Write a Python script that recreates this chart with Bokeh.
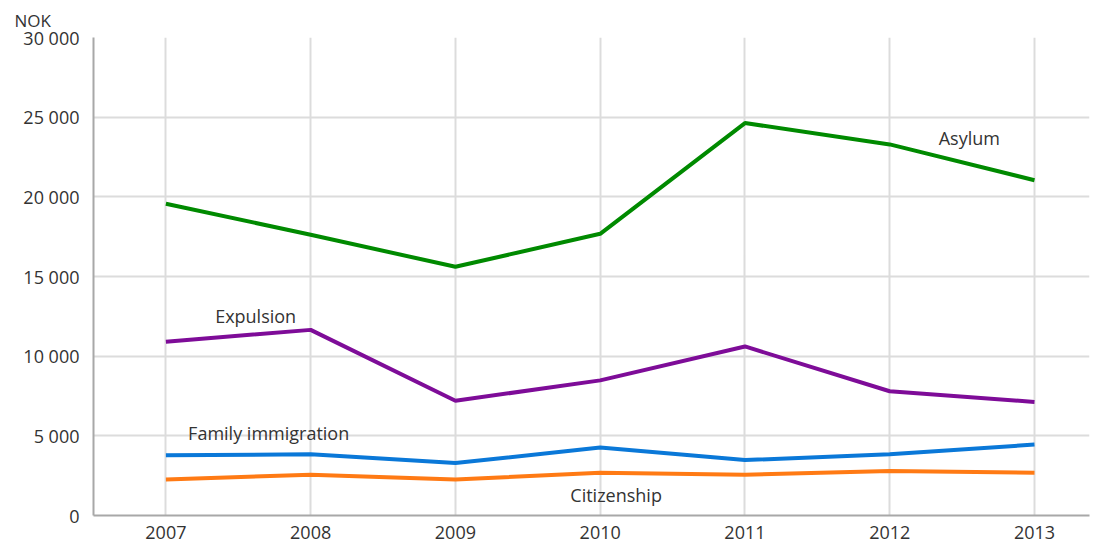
from bokeh.plotting import figure
from bokeh.models import Range1d, Label, FixedTicker
from bokeh.embed import file_html
from bokeh.resources import INLINE

years = [2007, 2008, 2009, 2010, 2011, 2012, 2013]
asylum = [19570, 17620, 15610, 17680, 24630, 23290, 21040]
expulsion = [10910, 11650, 7200, 8480, 10610, 7800, 7130]
family = [3780, 3840, 3290, 4270, 3480, 3840, 4450]
citizenship = [2260, 2560, 2260, 2680, 2560, 2800, 2680]
y_ticks = [0, 5000, 10000, 15000, 20000, 25000, 30000]

series = [
    ("Asylum", asylum, "#008a00", 2012.55, 23720),
    ("Expulsion", expulsion, "#7e0c98", 2007.62, 12500),
    ("Family immigration", family, "#0a78d8", 2007.71, 5180),
    ("Citizenship", citizenship, "#ff7a14", 2010.11, 1280),
]

FONT = "Open Sans"
TXT = "#333333"
FS = "18px"

p = figure(width=1094, height=546, output_backend="svg", toolbar_location=None,
           x_range=Range1d(2006.5, 2013.38), y_range=Range1d(0, 30000),
           min_border_left=93, min_border_right=5, min_border_bottom=31, min_border_top=35,
           title="NOK")
p.title.text_font = FONT
p.title.text_font_size = "17px"
p.title.text_font_style = "normal"
p.title.text_color = TXT
p.title.align = "left"
p.title.offset = -79
p.title.standoff = 12
p.outline_line_color = None
p.background_fill_color = "white"

p.xaxis.ticker = FixedTicker(ticks=years)
p.yaxis.ticker = FixedTicker(ticks=y_ticks)
p.yaxis.major_label_overrides = {t: f"{t:,}".replace(",", " ") for t in y_ticks}

for ax in (p.xaxis, p.yaxis):
    ax.major_tick_line_color = None
    ax.minor_tick_line_color = None
    ax.major_label_text_font = FONT
    ax.major_label_text_font_size = FS
    ax.major_label_text_color = TXT
    ax.axis_line_color = "#a8a8a8"
    ax.axis_line_width = 2
p.xaxis.major_label_standoff = 4
p.yaxis.major_label_standoff = 8

p.xgrid.grid_line_color = "#dcdcdc"
p.xgrid.grid_line_width = 2
p.ygrid.grid_line_color = "#dcdcdc"
p.ygrid.grid_line_width = 2

for name, vals, color, lx, ly in series:
    p.line(years, vals, line_color=color, line_width=4)
    p.add_layout(Label(x=lx, y=ly, text=name, text_font=FONT, text_font_size=FS,
                       text_color=TXT, text_align="center", text_baseline="middle"))

open("out.html", "w").write(file_html(p, INLINE))
